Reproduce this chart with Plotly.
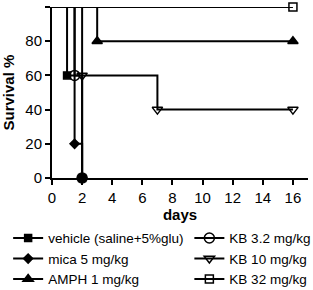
import plotly.graph_objects as go

# Kaplan-Meier style survival data (days, survival %)
names = ["vehicle (saline+5%glu)", "mica 5 mg/kg", "AMPH 1 mg/kg",
         "KB 3.2 mg/kg", "KB 10 mg/kg", "KB 32 mg/kg"]
legend_of = ["legend", "legend", "legend", "legend2", "legend2", "legend2"]
times = {
    "vehicle (saline+5%glu)": [0, 1, 2],
    "KB 3.2 mg/kg": [0, 1.5, 2],
    "mica 5 mg/kg": [0, 1.5, 2],
    "KB 10 mg/kg": [0, 2, 7, 16],
    "AMPH 1 mg/kg": [0, 3, 16],
    "KB 32 mg/kg": [0, 16],
}
survival = {
    "vehicle (saline+5%glu)": [100, 60, 0],
    "KB 3.2 mg/kg": [100, 60, 0],
    "mica 5 mg/kg": [100, 20, 0],
    "KB 10 mg/kg": [100, 60, 40, 40],
    "AMPH 1 mg/kg": [100, 80, 80],
    "KB 32 mg/kg": [100, 100],
}
symbols = {
    "vehicle (saline+5%glu)": ("square", 7),
    "KB 3.2 mg/kg": ("circle-open", 10),
    "mica 5 mg/kg": ("diamond", 7),
    "KB 10 mg/kg": ("triangle-down-open", 9),
    "AMPH 1 mg/kg": ("triangle-up", 9),
    "KB 32 mg/kg": ("square-open", 8),
}
x_ticks = list(range(0, 17, 2))
y_ticks = [0, 20, 40, 60, 80, 100]

fig = go.Figure()
for n in names:
    sym, sz = symbols[n]
    fig.add_trace(go.Scatter(x=times[n], y=survival[n], mode="lines",
                             line=dict(shape="hv", color="black", width=2),
                             showlegend=False, hoverinfo="skip", cliponaxis=False))
    fig.add_trace(go.Scatter(x=times[n][1:], y=survival[n][1:], mode="markers",
                             marker=dict(symbol=sym, size=sz, color="black",
                                         line=dict(color="black", width=1.5)),
                             showlegend=False, cliponaxis=False))
for n, lg in zip(names, legend_of):
    sym, sz = symbols[n]
    fig.add_trace(go.Scatter(x=[None], y=[None], mode="lines+markers", name=n,
                             legend=lg,
                             line=dict(color="black", width=2),
                             marker=dict(symbol=sym, size=sz, color="black",
                                         line=dict(color="black", width=1.5))))

legfont = dict(family="Liberation Sans", size=13.5, color="black")
tickfont = dict(family="Liberation Sans", size=15, color="black")
fig.update_layout(
    width=313, height=290,
    margin=dict(l=52, r=5, t=7, b=112, autoexpand=False),
    plot_bgcolor="white", paper_bgcolor="white",
    font=dict(family="Liberation Sans", size=14, color="black"),
    xaxis=dict(range=[0, 17], tickvals=x_ticks, ticks="outside", ticklen=5,
               tickwidth=2, tickcolor="black", showline=True, linewidth=2,
               linecolor="black", showgrid=False, zeroline=False,
               title=dict(text="<b>days</b>", standoff=2,
                          font=dict(family="Liberation Sans", size=15, color="black")),
               tickfont=tickfont, tickprefix="<b>", ticksuffix="</b>"),
    yaxis=dict(range=[0, 100], tickvals=y_ticks, ticks="outside", ticklen=5,
               tickwidth=2, tickcolor="black", showline=True, linewidth=2,
               linecolor="black", showgrid=False, zeroline=False,
               tickfont=tickfont, tickprefix="<b>", ticksuffix="</b>"),
    annotations=[dict(text="<b>Survival %</b>", textangle=-90, xref="paper",
                      yref="paper", x=-44 / 256, y=0.5, xanchor="center",
                      yanchor="middle", showarrow=False,
                      font=dict(family="Liberation Sans", size=15, color="black"))],
    legend=dict(xref="container", yref="container", x=0.026, xanchor="left",
                y=0.232, yanchor="top", font=legfont, bgcolor="rgba(0,0,0,0)",
                tracegroupgap=0),
    legend2=dict(xref="container", yref="container", x=0.605, xanchor="left",
                 y=0.232, yanchor="top", font=legfont, bgcolor="rgba(0,0,0,0)",
                 tracegroupgap=0),
)
fig.write_html("out.html")
